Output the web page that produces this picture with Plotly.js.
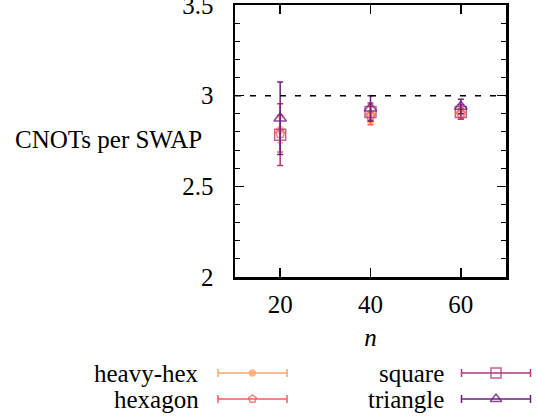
<!DOCTYPE html>
<html><head><meta charset="utf-8">
<script src="https://cdn.plot.ly/plotly-3.0.1.min.js"></script>
<style>html,body{margin:0;padding:0;background:#fff}#c{width:537px;height:416px}</style>
</head><body><div id="c"></div>
<script>
const nValues = [20, 40, 60];
const seriesNames = ["heavy-hex", "hexagon", "square", "triangle"];
const heavyHexMean = [2.81, 2.90, 2.91];
const heavyHexErr  = [0.07, 0.05, 0.03];
const hexagonMean  = [2.79, 2.89, 2.90];
const hexagonErr   = [0.10, 0.05, 0.03];
const squareMean   = [2.785, 2.91, 2.91];
const squareErr    = [0.17, 0.05, 0.04];
const triangleMean = [2.875, 2.93, 2.94];
const triangleErr  = [0.20, 0.07, 0.04];
const yTicks = [2, 2.5, 3, 3.5];
const xTicks = [20, 40, 60];
const referenceLevel = 3;

const colors = ["#fca76a", "#f1605d", "#b73779", "#721f81"];
const symbols = ["circle", "pentagon-open", "square-open", "triangle-up-open"];
const sizes = [7, 9, 11, 11];
const means = [heavyHexMean, hexagonMean, squareMean, triangleMean];
const errs = [heavyHexErr, hexagonErr, squareErr, triangleErr];
const font = "'Liberation Serif', 'Times New Roman', serif";
const fs = 25;

const traces = [];
for (let i = 0; i < 4; i++) {
  traces.push({
    x: nValues, y: means[i], type: "scatter", mode: "markers", name: seriesNames[i],
    showlegend: false, xaxis: "x", yaxis: "y",
    marker: {symbol: symbols[i], size: sizes[i], color: colors[i], opacity: 0.8,
             line: {color: colors[i], width: 1.5}},
    error_y: {type: "data", array: errs[i], visible: true, color: colors[i], thickness: 1.5, width: 3}
  });
}
const legPos = [[252.5, 373], [252.5, 399], [496, 373], [496, 399]];
const legTextX = [201, 201, 446, 446];
const annotations = [];
for (let i = 0; i < 4; i++) {
  traces.push({
    x: [legPos[i][0]], y: [legPos[i][1]], type: "scatter", mode: "markers", showlegend: false,
    xaxis: "x2", yaxis: "y2", hoverinfo: "skip",
    marker: {symbol: symbols[i], size: sizes[i] - 1, color: colors[i], opacity: 0.8,
             line: {color: colors[i], width: 1.5}},
    error_x: {type: "constant", value: 34.5, visible: true, color: colors[i], thickness: 1.5, width: 4}
  });
  annotations.push({xref: "x2", yref: "y2", x: legTextX[i], y: legPos[i][1], text: seriesNames[i],
    xanchor: "right", yanchor: "middle", showarrow: false, font: {family: font, size: fs, color: "#000"}});
}
annotations.push({xref: "paper", yref: "y", x: 0.024, y: 2.76, text: "CNOTs per SWAP", xanchor: "left",
  yanchor: "middle", showarrow: false, font: {family: font, size: fs, color: "#000"}});

const layout = {
  width: 537, height: 416, margin: {l: 0, r: 0, t: 5, b: 0},
  paper_bgcolor: "#fff", plot_bgcolor: "#fff", showlegend: false,
  font: {family: font, size: fs, color: "#000"},
  xaxis: {domain: [235/537, 506/537], range: [10, 70], tickvals: xTicks, ticks: "inside", ticklen: 9,
    tickwidth: 1.5, tickcolor: "#000", showline: true, linewidth: 2.5, linecolor: "#000", mirror: "allticks",
    showgrid: false, zeroline: false, ticklabelstandoff: 3, anchor: "y",
    tickfont: {family: font, size: fs, color: "#000"},
    title: {text: "<i>n</i>", font: {family: font, size: fs, color: "#000"}, standoff: 12}},
  yaxis: {domain: [139/411, 1], range: [2, 3.5], tickvals: yTicks, ticktext: ["2", "2.5", "3", "3.5"],
    ticks: "inside", ticklen: 9, tickwidth: 1.5, tickcolor: "#000", showline: true, linewidth: 2.5,
    linecolor: "#000", mirror: "allticks", showgrid: false, zeroline: false, ticklabelstandoff: 14, anchor: "x",
    ticklabeloverflow: "allow", tickfont: {family: font, size: fs, color: "#000"},
    minor: {dtick: 0.1, ticks: "inside", ticklen: 5, tickwidth: 1, tickcolor: "#000", showgrid: false}},
  xaxis2: {domain: [0, 1], range: [0, 537], visible: false, anchor: "y2", fixedrange: true},
  yaxis2: {domain: [0, 139/411], range: [416, 277], visible: false, anchor: "x2", fixedrange: true},
  shapes: [{type: "line", xref: "x", yref: "y", x0: 10, x1: 70, y0: referenceLevel, y1: referenceLevel,
    line: {color: "#000", width: 1.5, dash: "6px,9px"}}],
  annotations: annotations
};
Plotly.newPlot("c", traces, layout, {displayModeBar: false, staticPlot: true});
</script></body></html>
